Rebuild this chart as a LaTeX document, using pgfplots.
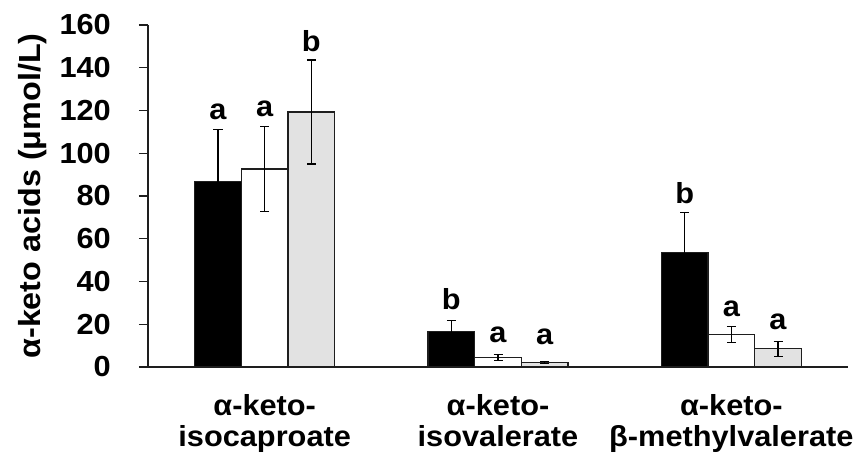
\documentclass[border=0pt]{standalone}
\usepackage{fontspec}
\setmainfont{Liberation Sans}[FakeStretch=1.06]
\usepackage{pgfplots}
\pgfplotsset{compat=1.18}
\definecolor{barline}{HTML}{1E1E1E}
\definecolor{lightbar}{HTML}{E2E2E2}
\begin{document}
\begin{tikzpicture}
\path[use as bounding box] (-148pt,-91pt) rectangle (708pt,367pt);
\begin{axis}[
  at={(0pt,0pt)}, anchor=south west,
  width=700pt, height=342pt, scale only axis,
  font=\fontsize{29}{31}\selectfont\bfseries,
  /pgf/number format/assume math mode=true,
  xmin=-0.5, xmax=2.5, ymin=0, ymax=160,
  axis x line=bottom, axis y line=left,
  axis line style={-, line width=1.2pt, barline},
  ytick={0,20,...,160},
  ytick style={line width=1.2pt, barline},
  tick align=outside, major tick length=9pt,
  xtick={0,1,2},
  x tick style={draw=none},
  xticklabels={{α-keto-\\isocaproate},{α-keto-\\isovalerate},{α-keto-\\β-methylvalerate}},
  xticklabel style={align=center, anchor=north, inner sep=0pt, yshift=-18pt, font=\fontsize{29}{31}\selectfont\bfseries},
  yticklabel style={anchor=east, inner sep=0pt, xshift=-28pt, font=\fontsize{29}{31}\selectfont\bfseries},
  ylabel={α-keto acids (μmol/L)},
  ylabel style={at={(axis description cs:0,0.5)}, anchor=center, yshift=115pt, font=\fontsize{30.5}{32}\selectfont\bfseries},
  error bars/error bar style={line width=1.2pt, black},
  error bars/error mark options={rotate=90, mark size=4.5pt, line width=1.2pt, black},
  clip=false,
]
% black series
\addplot[ybar, bar width=0.2, bar shift=0pt, fill=black, draw=barline, line width=1.2pt,
  error bars/.cd, y dir=both, y explicit]
  coordinates {(-0.2,86.6) +- (0,24.6) (0.8,16.5) +- (0,5.1) (1.8,53.6) +- (0,18.6)};
% white series
\addplot[ybar, bar width=0.2, bar shift=0pt, fill=white, draw=barline, line width=1.2pt,
  error bars/.cd, y dir=both, y explicit]
  coordinates {(0,92.6) +- (0,19.8) (1,4.4) +- (0,1.4) (2,15.2) +- (0,3.7)};
% grey series
\addplot[ybar, bar width=0.2, bar shift=0pt, fill=lightbar, draw=barline, line width=1.2pt,
  error bars/.cd, y dir=both, y explicit]
  coordinates {(0.2,119.3) +- (0,24.3) (1.2,2.2) +- (0,0.4) (2.2,8.6) +- (0,3.5)};
% significance letters
\addplot[only marks, mark=none, point meta=explicit symbolic,
  nodes near coords, nodes near coords style={anchor=base, inner sep=0pt, font=\fontsize{29}{31}\selectfont\bfseries}]
  coordinates {(-0.2,116.0)[a] (0,117.1)[a] (0.2,147.5)[b]
               (0.8,26.7)[b] (1,11.4)[a] (1.2,10.3)[a]
               (1.8,76.7)[b] (2,23.5)[a] (2.2,17.6)[a]};
\end{axis}
\end{tikzpicture}
\end{document}
